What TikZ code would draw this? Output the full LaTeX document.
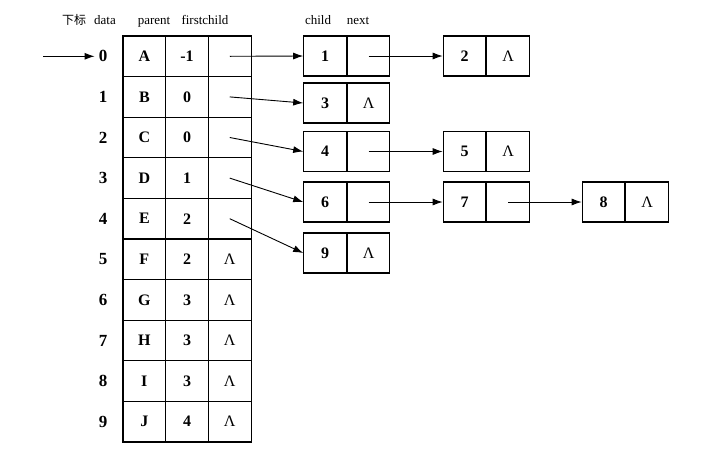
\documentclass[tikz,border=0pt]{standalone}
\usepackage{fontspec}
\setmainfont{Liberation Serif}
\newfontfamily\cjk{Noto Sans CJK SC}
\usetikzlibrary{arrows.meta}
\begin{document}
\begin{tikzpicture}[x=1pt,y=-1pt,
  cell/.style={draw,line width=1.1pt,minimum width=42.7pt,minimum height=40.6pt,inner sep=0pt,font=\fontsize{16}{16}\selectfont\bfseries},
  bcell/.style={draw,line width=1.1pt,minimum width=42.5pt,minimum height=40pt,inner sep=0pt,font=\fontsize{16}{16}\selectfont\bfseries},
  idx/.style={font=\fontsize{17}{17}\selectfont\bfseries,inner sep=1pt},
  hdr/.style={font=\fontsize{13}{13}\selectfont,inner sep=0pt,anchor=base},
  link/.style={line width=0.9pt,-{Latex[length=10pt,width=7pt]}}]
\useasboundingbox (0,0) rectangle (716,451);
% headers
\node[hdr] (h0) at (74,24) {\cjk\fontsize{12}{12}\selectfont 下标};
\node[hdr] (h1) at (105,24) {data};
\node[hdr] (h2) at (154,24) {parent};
\node[hdr] (h3) at (205,24) {firstchild};
\node[hdr] (h4) at (318,24) {child};
\node[hdr] (h5) at (358,24) {next};
% table
\foreach \i/\d/\p/\f in {0/A/-1/,1/B/0/,2/C/0/,3/D/1/,4/E/2/,5/F/2/Λ,6/G/3/Λ,7/H/3/Λ,8/I/3/Λ,9/J/4/Λ}{
  \node[idx] (i\i) at (103,{56.3+40.6*\i}) {\i};
  \node[cell] (d\i) at (144.35,{56.3+40.6*\i}) {\d};
  \node[cell] (p\i) at (187.05,{56.3+40.6*\i}) {\p};
  \node[cell,font=\fontsize{16}{16}\selectfont] (f\i) at (229.75,{56.3+40.6*\i}) {\f};
}
% child boxes
\foreach \n/\x/\y/\nx in {1/325/56/,2/464.5/56/Λ,3/325/103/Λ,4/325/151.5/,5/464.5/151.5/Λ,6/325/202/,7/464.5/202/,8/603.5/202/Λ,9/325/253/Λ}{
  \node[bcell] (b\n) at (\x,\y) {\n};
  \node[bcell,anchor=west,font=\fontsize{16}{16}\selectfont] (n\n) at (b\n.east) {\nx};
}
% start arrow
\coordinate (s) at (43,56.3);
\draw[link,shorten >=3pt] (s) -- (i0.west);
% firstchild links
\draw[link] (f0.center) -- (b1.west);
\draw[link] (f1.center) -- (b3.west);
\draw[link] (f2.center) -- (b4.west);
\draw[link] (f3.center) -- (b6.west);
\draw[link] (f4.center) -- (b9.west);
% next links
\draw[link] (n1.center) -- (b2.west);
\draw[link] (n4.center) -- (b5.west);
\draw[link] (n6.center) -- (b7.west);
\draw[link] (n7.center) -- (b8.west);
\end{tikzpicture}
\end{document}
